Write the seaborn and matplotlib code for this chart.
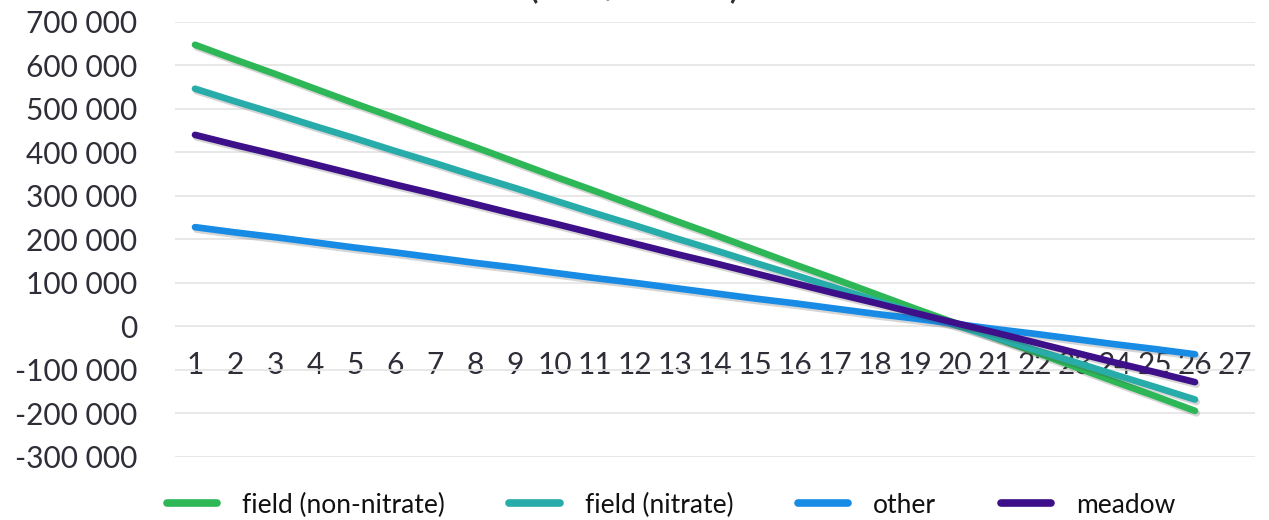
import matplotlib
matplotlib.use("Agg")
import matplotlib.pyplot as plt
import matplotlib.patheffects as pe
from matplotlib.ticker import FuncFormatter, FixedLocator
import seaborn as sns
import pandas as pd

# ---- data ----
periods = list(range(1, 27))
tick_labels = [str(i) for i in range(1, 28)]
series_names = ["field (non-nitrate)", "field (nitrate)", "other", "meadow"]

field_non_nitrate = [647000, 613000, 580000, 546000, 512000, 479000, 445000, 412000, 378000,
                     344000, 311000, 277000, 243000, 210000, 176000, 142000, 109000, 75000,
                     41000, 8000, -26000, -59000, -93000, -127000, -160000, -194000]
field_nitrate = [546000, 517000, 489000, 460000, 432000, 403000, 375000, 346000, 318000,
                 289000, 260000, 232000, 203000, 175000, 146000, 118000, 89000, 60000,
                 32000, 3000, -25000, -54000, -82000, -111000, -139000, -168000]
other = [228000, 216000, 205000, 193000, 181000, 170000, 158000, 146000, 135000,
         123000, 111000, 100000, 88000, 76000, 64000, 53000, 41000, 29000,
         18000, 6000, -6000, -17000, -29000, -41000, -52000, -64000]
meadow = [440000, 417000, 395000, 372000, 349000, 326000, 304000, 281000, 258000,
          236000, 213000, 190000, 167000, 145000, 122000, 99000, 76000, 54000,
          31000, 8000, -14000, -37000, -60000, -83000, -105000, -128000]

colors = ["#2DB757", "#27ACAA", "#188CE5", "#3D108A"]
title_text = "(EUR / hectare)"

frames = []
for name, vals in zip(series_names, [field_non_nitrate, field_nitrate, other, meadow]):
    frames.append(pd.DataFrame({"period": periods, "value": vals, "series": name}))
df = pd.concat(frames, ignore_index=True)

sns.set_theme(style="white")
plt.rcParams["font.family"] = ["Lato", "DejaVu Sans"]
text_color = "#2E2E38"

fig = plt.figure(figsize=(12.69, 5.20), dpi=100)
ax = fig.add_axes([175 / 1269, (520 - 457) / 520, 1080 / 1269, (457 - 21.7) / 520])

sns.lineplot(data=df, x="period", y="value", hue="series", hue_order=series_names,
             palette=colors, linewidth=4.8, ax=ax, legend=False, sort=False)

for line in ax.get_lines():
    line.set_solid_capstyle("round")
    line.set_path_effects([pe.SimpleLineShadow(offset=(1.2, -1.8), shadow_color="#444444", alpha=0.22),
                           pe.Normal()])
    line.set_clip_on(False)

ax.set_xlim(0.5, 27.5)
ax.set_ylim(-300000, 700000)
ax.yaxis.set_major_locator(FixedLocator(list(range(-300000, 700001, 100000))))
ax.yaxis.set_major_formatter(FuncFormatter(lambda v, p: f"{int(v):,}".replace(",", " ")))
ax.set_xticks(list(range(1, 28)))
ax.set_xticklabels(tick_labels)

ax.grid(axis="y", color="#E4E4E4", linewidth=1.2)
ax.set_axisbelow(True)
for s in ["top", "right", "left"]:
    ax.spines[s].set_visible(False)
ax.spines["bottom"].set_position(("data", 0))
ax.spines["bottom"].set_visible(False)

ax.tick_params(axis="y", length=0, pad=27, labelsize=21.5, labelcolor=text_color)
ax.tick_params(axis="x", length=0, pad=18, labelsize=21.5, labelcolor=text_color)
ax.set_xlabel("")
ax.set_ylabel("")

fig.text(634 / 1269, 1 + 1.5 / 520, title_text, ha="center", va="baseline",
         fontsize=22, color=text_color, fontweight="bold")

handles = [plt.Line2D([0], [0], color=c, linewidth=5.5, solid_capstyle="round") for c in colors]
leg = fig.legend(handles, series_names, loc="center", bbox_to_anchor=(671 / 1269, 1 - 505 / 520),
                 ncol=4, frameon=False, fontsize=19, handlelength=1.9, handletextpad=0.95,
                 columnspacing=2.45, labelcolor="#111111")

fig.savefig("out.png", dpi=100)
